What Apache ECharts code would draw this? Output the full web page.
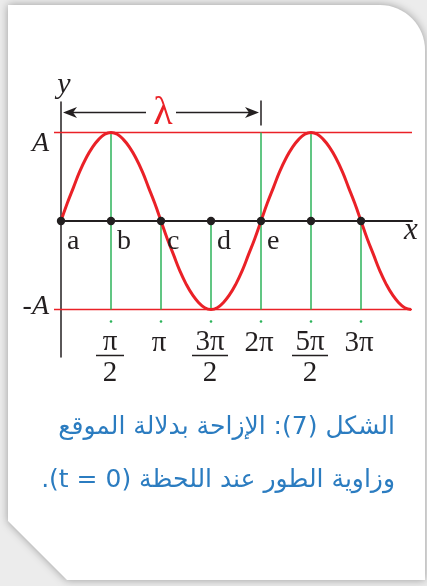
<!DOCTYPE html>
<html>
<head>
<meta charset="utf-8">
<script src="https://cdn.jsdelivr.net/npm/echarts@6/dist/echarts.min.js"></script>
<style>
html, body { margin: 0; padding: 0; background: #ececec; }
#main { width: 427px; height: 586px; }
</style>
</head>
<body>
<div id="main"></div>
<script>
// x in units of pi, y in units of A (samples every pi/16)
var waveX = [0, 0.0625, 0.125, 0.1875, 0.25, 0.3125, 0.375, 0.4375, 0.5, 0.5625, 0.625, 0.6875, 0.75, 0.8125, 0.875, 0.9375,
             1, 1.0625, 1.125, 1.1875, 1.25, 1.3125, 1.375, 1.4375, 1.5, 1.5625, 1.625, 1.6875, 1.75, 1.8125, 1.875, 1.9375,
             2, 2.0625, 2.125, 2.1875, 2.25, 2.3125, 2.375, 2.4375, 2.5, 2.5625, 2.625, 2.6875, 2.75, 2.8125, 2.875, 2.9375,
             3, 3.0625, 3.125, 3.1875, 3.25, 3.3125, 3.375, 3.4375, 3.5];
var waveY = [0, 0.2, 0.38, 0.56, 0.71, 0.83, 0.92, 0.98, 1, 0.98, 0.92, 0.83, 0.71, 0.56, 0.38, 0.2,
             0, -0.2, -0.38, -0.56, -0.71, -0.83, -0.92, -0.98, -1, -0.98, -0.92, -0.83, -0.71, -0.56, -0.38, -0.2,
             0, 0.2, 0.38, 0.56, 0.71, 0.83, 0.92, 0.98, 1, 0.98, 0.92, 0.83, 0.71, 0.56, 0.38, 0.2,
             0, -0.2, -0.38, -0.56, -0.71, -0.83, -0.92, -0.98, -1];

var dotX = [0, 0.5, 1, 1.5, 2, 2.5, 3];
var dotNames = ['a', 'b', 'c', 'd', 'e', '', ''];

var guideX = [0.5, 1, 1.5, 2, 2.5, 3];
var guideTop = [1, 0, 0, 1, 1, 0];
var guideBottom = [-1, -1, -1, -1, -1, -1];

var tickX = [0.5, 1, 1.5, 2, 2.5, 3];
var tickNum = ['π', 'π', '3π', '2π', '5π', '3π'];
var tickDen = ['2', '', '2', '', '2', ''];

var levelY = [1, -1];
var levelNames = ['A', '-A'];
var waveEnd = 3.5;

var lambdaSpan = [0, 2];
var lambdaY = 1.225;
var lambdaText = 'λ';

var captionLines = ['الشكل (7): الإزاحة بدلالة الموقع', 'وزاوية الطور عند اللحظة (t = 0).'];

var INK = '#231f20';
var RED = '#ea2127';
var GREEN = '#2cb35a';
var BLUE = '#2b7cc0';
var SERIF = '"Liberation Serif", "DejaVu Serif", serif';

var chart = echarts.init(document.getElementById('main'));

function pts(xs, ys) {
    return xs.map(function (x, i) { return [x, ys[i]]; });
}

var option = {
    backgroundColor: '#ececec',
    animation: false,
    grid: { left: 61, top: 102, width: 351, height: 255 },
    xAxis: {
        type: 'value', min: 0, max: 3.51,
        axisLine: { onZero: true, lineStyle: { color: INK, width: 2 } },
        axisTick: { show: false }, axisLabel: { show: false }, splitLine: { show: false },
        name: 'x', nameLocation: 'end', nameGap: -1,
        nameTextStyle: { color: INK, fontFamily: SERIF, fontStyle: 'italic', fontSize: 31,
            align: 'center', verticalAlign: 'top', lineHeight: 20 }
    },
    yAxis: {
        type: 'value', min: -1.537, max: 1.345,
        axisLine: { onZero: true, lineStyle: { color: INK, width: 1.5 } },
        axisTick: { show: false }, axisLabel: { show: false }, splitLine: { show: false },
        name: 'y', nameLocation: 'end', nameGap: 17,
        nameTextStyle: { color: INK, fontFamily: SERIF, fontStyle: 'italic', fontSize: 30,
            align: 'center', verticalAlign: 'middle', padding: [0, 0, 0, 6] }
    },
    title: captionLines.map(function (s, i) {
        return {
            text: '\u202B' + s + '\u202C',
            right: 32, top: 412 + i * 53, padding: 0,
            textStyle: { color: BLUE, fontFamily: '"DejaVu Sans"', fontWeight: 'normal', fontSize: 25, lineHeight: 30 }
        };
    }),
    series: [
        {
            // the white card behind the figure
            type: 'custom', z: -10, silent: true,
            data: [[0, 0]],
            renderItem: function () {
                return {
                    type: 'path', silent: true,
                    shape: { pathData: 'M8,5 H380 A45,45 0 0 1 425,50 V580 H67 L8,521 Z' },
                    style: { fill: '#ffffff', shadowBlur: 9, shadowColor: 'rgba(0,0,0,0.35)' }
                };
            }
        },
        {
            // horizontal A / -A lines and their labels
            type: 'custom', z: 3,
            data: levelY.map(function (y, i) { return [y, i]; }),
            renderItem: function (params, api) {
                var y = api.value(0);
                var p0 = api.coord([0, y]);
                var p1 = api.coord([waveEnd, y]);
                return {
                    type: 'group',
                    children: [
                        { type: 'line', shape: { x1: p0[0] - 7, y1: p0[1], x2: p1[0] + 1, y2: p1[1] },
                          style: { stroke: RED, lineWidth: 1.5 } },
                        { type: 'text', style: {
                            text: levelNames[params.dataIndex], x: p0[0] - 12, y: p0[1] + (y > 0 ? 11 : -3),
                            align: 'right', verticalAlign: 'middle',
                            font: 'italic 28px ' + SERIF, fill: INK } }
                    ]
                };
            }
        },
        {
            // green guides down to -A
            type: 'custom', z: 3,
            data: guideX.map(function (x, i) { return [x, guideTop[i], guideBottom[i]]; }),
            renderItem: function (params, api) {
                var a = api.coord([api.value(0), api.value(1)]);
                var b = api.coord([api.value(0), api.value(2)]);
                return { type: 'line', shape: { x1: a[0], y1: a[1], x2: b[0], y2: b[1] },
                         style: { stroke: GREEN, lineWidth: 1.5 } };
            }
        },
        {
            type: 'line', z: 4, smooth: true, showSymbol: false, clip: false,
            data: pts(waveX, waveY),
            lineStyle: { color: RED, width: 3 }
        },
        {
            // points a..e on the x axis
            type: 'custom', z: 6,
            data: dotX.map(function (x) { return [x, 0]; }),
            renderItem: function (params, api) {
                var p = api.coord([api.value(0), api.value(1)]);
                return {
                    type: 'group',
                    children: [
                        { type: 'circle', shape: { cx: p[0], cy: p[1], r: 4.2 }, style: { fill: INK } },
                        { type: 'text', style: {
                            text: dotNames[params.dataIndex], x: p[0] + 6, y: p[1] + 21,
                            align: 'left', verticalAlign: 'middle', font: '28px ' + SERIF, fill: INK } }
                    ]
                };
            }
        },
        {
            // tick labels under -A
            type: 'custom', z: 6,
            data: tickX.map(function (x) { return [x, -1]; }),
            renderItem: function (params, api) {
                var i = params.dataIndex;
                var p = api.coord([api.value(0), api.value(1)]);
                var font = '29px ' + SERIF;
                var kids = [{ type: 'circle', shape: { cx: p[0], cy: p[1] + 12, r: 1.3 }, style: { fill: GREEN } }];
                if (tickDen[i]) {
                    var half = tickNum[i].length > 1 ? 18 : 14;
                    kids.push({ type: 'text', style: { text: tickNum[i], x: p[0] - 1, y: p[1] + 33,
                        align: 'center', verticalAlign: 'middle', font: font, fill: INK } });
                    kids.push({ type: 'line', shape: { x1: p[0] - half - 1, y1: p[1] + 46, x2: p[0] + half - 1, y2: p[1] + 46 },
                        style: { stroke: INK, lineWidth: 1.5 } });
                    kids.push({ type: 'text', style: { text: tickDen[i], x: p[0] - 1, y: p[1] + 63.5,
                        align: 'center', verticalAlign: 'middle', font: font, fill: INK } });
                } else {
                    kids.push({ type: 'text', style: { text: tickNum[i], x: p[0] - 2, y: p[1] + 34,
                        align: 'center', verticalAlign: 'middle', font: font, fill: INK } });
                }
                return { type: 'group', children: kids };
            }
        },
        {
            // wavelength arrow
            type: 'custom', z: 6,
            data: [[lambdaSpan[0], lambdaSpan[1], lambdaY]],
            renderItem: function (params, api) {
                var a = api.coord([api.value(0), api.value(2)]);
                var b = api.coord([api.value(1), api.value(2)]);
                var l = a[0] + 2, r = b[0] - 2, y = a[1], mid = (a[0] + b[0]) / 2;
                var head = function (tip, dir) {
                    return { type: 'polygon', shape: { points: [
                        [tip, y], [tip + dir * 14, y - 5.5], [tip + dir * 10, y], [tip + dir * 14, y + 5.5]] },
                        style: { fill: INK } };
                };
                return {
                    type: 'group',
                    children: [
                        { type: 'line', shape: { x1: l + 8, y1: y, x2: mid - 15, y2: y }, style: { stroke: INK, lineWidth: 1.5 } },
                        { type: 'line', shape: { x1: mid + 15, y1: y, x2: r - 8, y2: y }, style: { stroke: INK, lineWidth: 1.5 } },
                        head(l, 1), head(r, -1),
                        { type: 'line', shape: { x1: b[0], y1: y - 12, x2: b[0], y2: y + 13 }, style: { stroke: INK, lineWidth: 1.5 } },
                        { type: 'text', style: { text: lambdaText, x: mid + 2, y: y + 1, align: 'center', verticalAlign: 'middle',
                            font: '40px ' + SERIF, fill: RED } }
                    ]
                };
            }
        }
    ]
};

chart.setOption(option);
</script>
</body>
</html>
